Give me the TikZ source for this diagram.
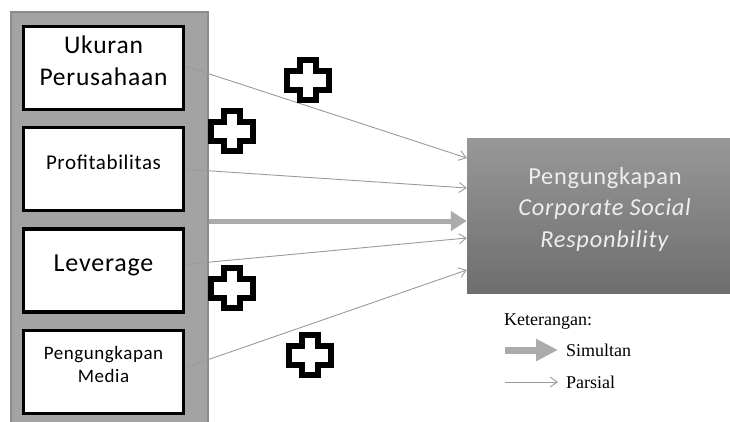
\documentclass[tikz,border=0pt]{standalone}
\usepackage{fontspec}
\setmainfont{Liberation Serif}
\newfontfamily\boxfont[LetterSpace=3]{Carlito}
\newfontfamily\legendfont{Liberation Serif}
\usetikzlibrary{arrows.meta,positioning}
\definecolor{PanelGray}{HTML}{A3A3A3}
\definecolor{PanelEdge}{HTML}{8C8C8C}
\definecolor{LineGray}{HTML}{9A9A9A}
\definecolor{BoldGray}{HTML}{ABABAB}
\definecolor{TargetTop}{HTML}{989898}
\definecolor{TargetBottom}{HTML}{6E6E6E}
\definecolor{TargetText}{HTML}{EEEEEE}

\begin{document}
\begin{tikzpicture}[x=1pt, y=-1pt, node distance=15pt,
  varbox/.style={draw=black, line width=3.2pt, fill=white, minimum width=160pt, minimum height=83pt, align=center, inner sep=2pt, text depth=14pt},
  partial/.style={draw=LineGray, line width=0.9pt, -{Straight Barb[length=7pt,width=10pt]}},
  simul/.style={draw=BoldGray, line width=5pt, -{Triangle[length=16pt,width=19pt]}},
  legendtxt/.style={font=\legendfont\fontsize{18}{20}\selectfont, inner sep=1pt},
  plusmark/.style={draw=black, line width=6pt, fill=white, line join=miter}]
\useasboundingbox (0,0) rectangle (730,421);
\clip (0,0) rectangle (730,421);
% left panel with the four variables
\node[draw=PanelEdge, line width=1.5pt, fill=PanelGray, minimum width=197pt, minimum height=420pt, inner sep=0pt] (panel) at (109.5,222) {};
\node[varbox, font=\boxfont\fontsize{25.5}{32}\selectfont] (ukuran) at (103.5,68) {Ukuran\\Perusahaan};
\node[varbox, below=of ukuran, font=\boxfont\fontsize{21}{22}\selectfont] (profit) {Profitabilitas};
\node[varbox, below=of profit, font=\boxfont\fontsize{26}{28}\selectfont] (lev) {Leverage};
\node[varbox, below=of lev, font=\boxfont\fontsize{19}{23}\selectfont] (media) {Pengungkapan\\Media};
% dependent variable
\node[top color=TargetTop, bottom color=TargetBottom, minimum width=276pt, minimum height=155pt, align=center, text=TargetText, font=\boxfont\fontsize{24.4}{31.5}\selectfont, text depth=16pt] (csr) at (605,215.5) {Pengungkapan\\\textit{Corporate Social}\\\textit{Responbility}};
% arrows
\draw[partial] ([yshift=2pt]ukuran.east) -- ([yshift=57.5pt]csr.west);
\draw[partial] (profit.east) -- ([yshift=27.5pt]csr.west);
\draw[simul] ([yshift=1pt]panel.east) -- ([yshift=-5.5pt]csr.west);
\draw[partial] ([yshift=6pt]lev.east) -- ([yshift=-22.5pt]csr.west);
\draw[partial] ([yshift=4pt]media.east) -- ([yshift=-54.5pt]csr.west);
% plus marks
\foreach \cx/\cy in {308/80, 232/131, 232/288, 310/355}
  \draw[plusmark, shift={(\cx,\cy)}] (-8,-20) -- (8,-20) -- (8,-9.5) -- (21,-9.5) -- (21,9.5) -- (8,9.5) -- (8,20) -- (-8,20) -- (-8,9.5) -- (-21,9.5) -- (-21,-9.5) -- (-8,-9.5) -- cycle;
% legend
\node[legendtxt, anchor=west] (ket) at (503,322) {Keterangan:};
\node[legendtxt, anchor=west] (simtext) at (565,350) {Simultan};
\node[legendtxt, anchor=west] (partext) at (565,382) {Parsial};
\coordinate (simstart) at (505,350);
\coordinate (parstart) at (505,382);
\draw[simul, line width=7pt, -{Triangle[length=22pt,width=21pt]}, shorten >=7pt] (simstart) -- (simtext.west);
\draw[partial, shorten >=7pt] (parstart) -- (partext.west);
\end{tikzpicture}
\end{document}
